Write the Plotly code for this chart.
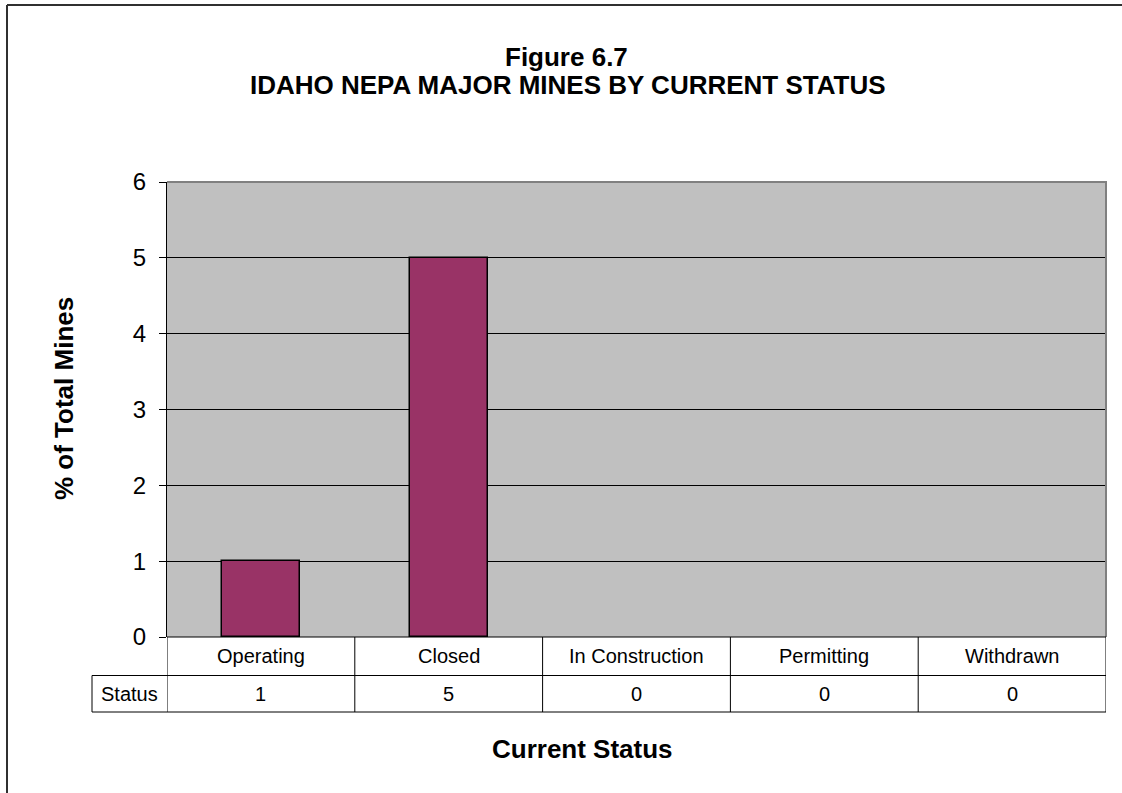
import plotly.graph_objects as go

categories = ["Operating", "Closed", "In Construction", "Permitting", "Withdrawn"]
values = [1, 5, 0, 0, 0]
series_name = "Status"
y_ticks = [0, 1, 2, 3, 4, 5, 6]
title_lines = ["Figure 6.7", "IDAHO NEPA MAJOR MINES BY CURRENT STATUS"]
y_title = "% of Total Mines"
x_title = "Current Status"

W, H = 1122, 793
FONT = "Arial, Liberation Sans, sans-serif"

def px_x(p):
    return p / W

def px_y(p):
    return 1 - p / H

plot_l, plot_r, plot_t, plot_b = 167, 1106, 182, 637
row1_b, row2_b, hdr_l = 675.5, 712, 92

fig = go.Figure()
fig.add_trace(go.Bar(
    x=list(range(len(categories))), y=values, name=series_name,
    marker=dict(color="#993366",
                line=dict(color="black", width=[1.5 if v > 0 else 0 for v in values])),
    width=0.415,
))

fig.update_layout(
    width=W, height=H, margin=dict(l=0, r=0, t=0, b=0, autoexpand=False),
    paper_bgcolor="white", plot_bgcolor="#C0C0C0",
    showlegend=False, bargap=0,
    font=dict(family=FONT, color="black"),
    xaxis=dict(domain=[px_x(plot_l), px_x(plot_r)], range=[-0.5, len(categories) - 0.5],
               showticklabels=False, showgrid=False, zeroline=False, ticks="",
               fixedrange=True, automargin=False),
    yaxis=dict(domain=[px_y(plot_b), px_y(plot_t)], range=[0, 6], tickvals=y_ticks,
               ticks="outside", ticklen=7, tickcolor="black", tickwidth=1,
               tickfont=dict(size=24, family=FONT), showgrid=True, gridcolor="black",
               gridwidth=1, zeroline=False, showline=True, linecolor="black", linewidth=1,
               ticklabelstandoff=8, automargin=False, fixedrange=True),
)

shapes = []
# plot area top and right border (gray)
shapes.append(dict(type="line", xref="paper", yref="paper", x0=px_x(plot_l), x1=px_x(plot_r + 1),
                   y0=px_y(plot_t), y1=px_y(plot_t), line=dict(color="#808080", width=2)))
shapes.append(dict(type="line", xref="paper", yref="paper", x0=px_x(plot_r), x1=px_x(plot_r),
                   y0=px_y(plot_t), y1=px_y(plot_b), line=dict(color="#808080", width=2)))
# table horizontal lines
for yy, xl in [(plot_b, plot_l), (row1_b, hdr_l), (row2_b, hdr_l)]:
    shapes.append(dict(type="line", xref="paper", yref="paper", x0=px_x(xl), x1=px_x(plot_r),
                       y0=px_y(yy), y1=px_y(yy), line=dict(color="black", width=1)))
# table vertical lines at category boundaries
for i in range(len(categories) + 1):
    shapes.append(dict(type="line", xref="x", yref="paper", x0=i - 0.5, x1=i - 0.5,
                       y0=px_y(plot_b), y1=px_y(row2_b), line=dict(color="black", width=1)))
shapes.append(dict(type="line", xref="paper", yref="paper", x0=px_x(hdr_l), x1=px_x(hdr_l),
                   y0=px_y(row1_b), y1=px_y(row2_b), line=dict(color="black", width=1)))
# outer chart frame
shapes.append(dict(type="line", xref="paper", yref="paper", x0=px_x(7), x1=px_x(7),
                   y0=px_y(5), y1=0, line=dict(color="#303030", width=2)))
shapes.append(dict(type="line", xref="paper", yref="paper", x0=px_x(7), x1=1,
                   y0=px_y(5), y1=px_y(5), line=dict(color="#303030", width=2)))
fig.update_layout(shapes=shapes)

def note(text, x, y, size, **kw):
    d = dict(text=text, x=x, y=y, showarrow=False, xanchor="center", yanchor="middle",
             font=dict(size=size, family=FONT, color="black"))
    d.setdefault("xref", "paper")
    d.setdefault("yref", "paper")
    d.update(kw)
    return d

ann = []
ann.append(note("<b>" + title_lines[0] + "</b>", px_x(566), px_y(57), 26))
ann.append(note("<b>" + title_lines[1] + "</b>", px_x(568), px_y(85), 26))
ann.append(note("<b>" + y_title + "</b>", px_x(64), px_y(398), 26, textangle=-90))
ann.append(note("<b>" + x_title + "</b>", px_x(582), px_y(749), 26))
for i, (c, v) in enumerate(zip(categories, values)):
    ann.append(note(c, i, px_y((plot_b + row1_b) / 2), 20, xref="x"))
    ann.append(note(str(v), i, px_y((row1_b + row2_b) / 2), 20, xref="x"))
ann.append(note(series_name, px_x((hdr_l + plot_l) / 2), px_y((row1_b + row2_b) / 2), 20))
fig.update_layout(annotations=ann)

fig.write_html("out.html")
